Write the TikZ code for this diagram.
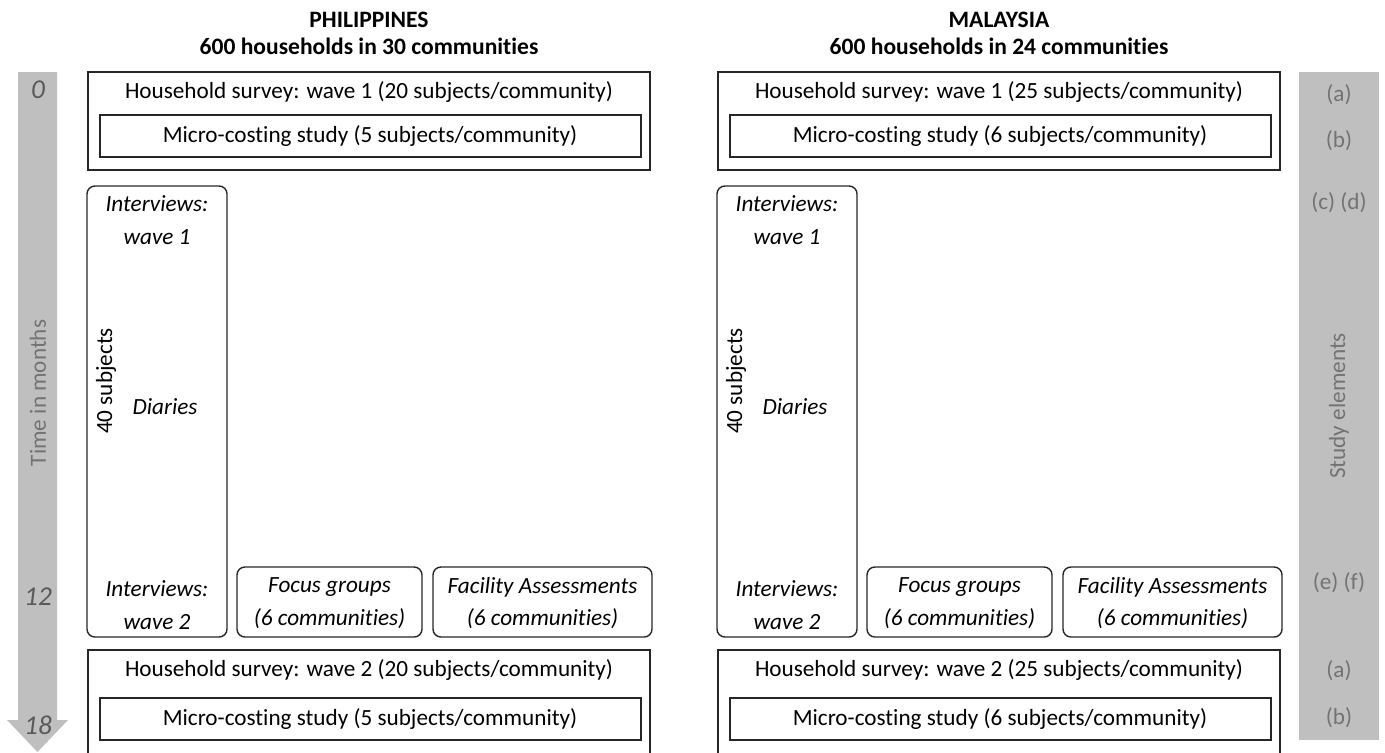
\documentclass[tikz,border=0pt]{standalone}
\usepackage{fontspec}
\setmainfont{Carlito}[Ligatures=CommonOff]
\usetikzlibrary{positioning}
\definecolor{barfill}{HTML}{BFBFBF}
\definecolor{bartext}{HTML}{737373}
\definecolor{numtext}{HTML}{595959}
\tikzset{
	frame/.style={draw=black!85, line width=0.8pt},
	roundframe/.style={frame, rounded corners=4.5pt},
	txt/.style={inner sep=0pt, align=center},
	it/.style={txt, font=\itshape},
	head/.style={txt, font=\fontsize{13.4}{16}\selectfont\bfseries},
	sidetxt/.style={txt, text=bartext},
	numtxt/.style={txt, text=numtext, font=\fontsize{15.5}{18}\selectfont\itshape}
}

\begin{document}
\fontsize{13.2}{18.7}\selectfont
\begin{tikzpicture}[x=0.02cm, y=-0.02cm]
	\useasboundingbox (0,0) rectangle (1385,752);
	% time arrow
	\fill[barfill] (18,72) -- (57,72) -- (57,720) -- (68,720) -- (37.5,752) -- (7,720) -- (18,720) -- cycle;
	\node[numtxt] (m0) at (38,90) {0};
	\node[numtxt] (m12) at (38,597) {12};
	\node[numtxt] (m18) at (38,725) {18};
	\node[sidetxt, rotate=90] (timeLbl) at (38,393) {Time in months};
	% study elements bar
	\fill[barfill] (1299,72) rectangle (1379,740);
	\node[sidetxt] (elA1) at (1339,95) {(a)};
	\node[sidetxt] (elB1) at (1339,141) {(b)};
	\node[sidetxt] (elCD) at (1339,203) {(c) (d)};
	\node[sidetxt, rotate=90] (elLbl) at (1339,406) {Study elements};
	\node[sidetxt] (elEF) at (1339,583) {(e) (f)};
	\node[sidetxt] (elA2) at (1339,671) {(a)};
	\node[sidetxt] (elB2) at (1339,718) {(b)};
	% Philippines
	\node[head] (phTitle) at (369,20) {PHILIPPINES};
	\node[head] (phHouse) at (369,46) {600 households in 30 communities};
	\draw[frame] (88,72) rectangle (650,170);
	\node[txt] (phSurvey1) at (369,92) {Household survey: wave 1 (20 subjects/community)};
	\draw[frame] (100,115) rectangle (641,157);
	\node[txt] (phCost1) at (370,136) {Micro-costing study (5 subjects/community)};
	\draw[roundframe] (87,186) rectangle (227,637);
	\node[it] (phInt1) at (157,220) {Interviews:\\wave 1};
	\node[txt, rotate=90] (phSubj) at (106,381) {40 subjects};
	\node[it] (phDiary) at (165,407) {Diaries};
	\node[it] (phInt2) at (157,605) {Interviews:\\wave 2};
	\draw[roundframe] (237,567) rectangle (422,637);
	\node[it] (phFocus) at (329.5,603) {Focus groups\\(6 communities)};
	\draw[roundframe] (433,567) rectangle (652,637);
	\node[it] (phFacil) at (542.5,603) {Facility Assessments\\(6 communities)};
	\draw[frame] (88,650) rectangle (650,770);
	\node[txt] (phSurvey2) at (369,670) {Household survey: wave 2 (20 subjects/community)};
	\draw[frame] (100,698) rectangle (641,740);
	\node[txt] (phCost2) at (370,719) {Micro-costing study (5 subjects/community)};
	% Malaysia
	\node[head] (myTitle) at (999,20) {MALAYSIA};
	\node[head] (myHouse) at (999,46) {600 households in 24 communities};
	\draw[frame] (718,72) rectangle (1280,170);
	\node[txt] (mySurvey1) at (999,92) {Household survey: wave 1 (25 subjects/community)};
	\draw[frame] (730,115) rectangle (1271,157);
	\node[txt] (myCost1) at (1000,136) {Micro-costing study (6 subjects/community)};
	\draw[roundframe] (717,186) rectangle (857,637);
	\node[it] (myInt1) at (787,220) {Interviews:\\wave 1};
	\node[txt, rotate=90] (mySubj) at (736,381) {40 subjects};
	\node[it] (myDiary) at (795,407) {Diaries};
	\node[it] (myInt2) at (787,605) {Interviews:\\wave 2};
	\draw[roundframe] (867,567) rectangle (1052,637);
	\node[it] (myFocus) at (959.5,603) {Focus groups\\(6 communities)};
	\draw[roundframe] (1063,567) rectangle (1282,637);
	\node[it] (myFacil) at (1172.5,603) {Facility Assessments\\(6 communities)};
	\draw[frame] (718,650) rectangle (1280,770);
	\node[txt] (mySurvey2) at (999,670) {Household survey: wave 2 (25 subjects/community)};
	\draw[frame] (730,698) rectangle (1271,740);
	\node[txt] (myCost2) at (1000,719) {Micro-costing study (6 subjects/community)};
\end{tikzpicture}
\end{document}
